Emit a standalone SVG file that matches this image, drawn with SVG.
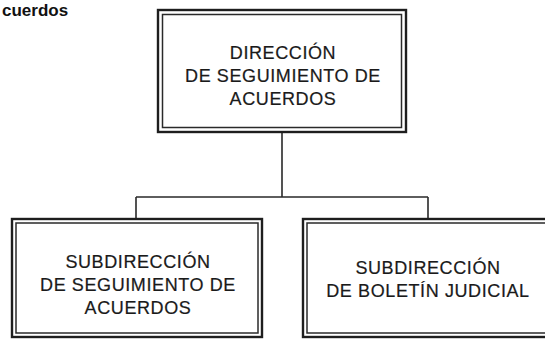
<svg xmlns="http://www.w3.org/2000/svg" width="545" height="339" viewBox="0 0 545 339">
<style>
.outer{fill:none;stroke:#1e1e1e;stroke-width:2.4}
.inner{fill:none;stroke:#2a2a2a;stroke-width:1.5}
.lbl{font-family:"Liberation Sans",Arial,sans-serif;font-size:18px;fill:#1a1a1a;stroke:#1a1a1a;stroke-width:0.2;text-anchor:middle;letter-spacing:0.6px}
.conn{fill:none;stroke:#2a2a2a;stroke-width:1.6}
.hdr{font-family:"Liberation Sans",Arial,sans-serif;font-size:17px;font-weight:bold;fill:#111}
</style>
<rect width="545" height="339" fill="#fff"/>
<text class="hdr" x="2" y="16">cuerdos</text>
<g id="connectors">
<path class="conn" d="M282 132 V197 M136 197 H428 M136 197 V218 M428 197 V218"/>
</g>
<g id="n-direccion">
<rect class="outer" x="158" y="10" width="248" height="122"/>
<rect class="inner" x="162.5" y="14.5" width="239" height="113"/>
<text class="lbl" x="283" y="59">DIRECCIÓN</text>
<text class="lbl" x="283" y="82">DE SEGUIMIENTO DE</text>
<text class="lbl" x="283" y="105">ACUERDOS</text>
</g>
<g id="n-sub-seguimiento">
<rect class="outer" x="12" y="219" width="250" height="118"/>
<rect class="inner" x="16" y="223" width="242" height="110"/>
<text class="lbl" x="138" y="268">SUBDIRECCIÓN</text>
<text class="lbl" x="138" y="291">DE SEGUIMIENTO DE</text>
<text class="lbl" x="138" y="314">ACUERDOS</text>
</g>
<g id="n-sub-boletin">
<rect class="outer" x="303" y="219" width="260" height="118"/>
<rect class="inner" x="307" y="223" width="260" height="110"/>
<text class="lbl" x="428" y="274">SUBDIRECCIÓN</text>
<text class="lbl" x="428" y="297">DE BOLETÍN JUDICIAL</text>
</g>
</svg>
